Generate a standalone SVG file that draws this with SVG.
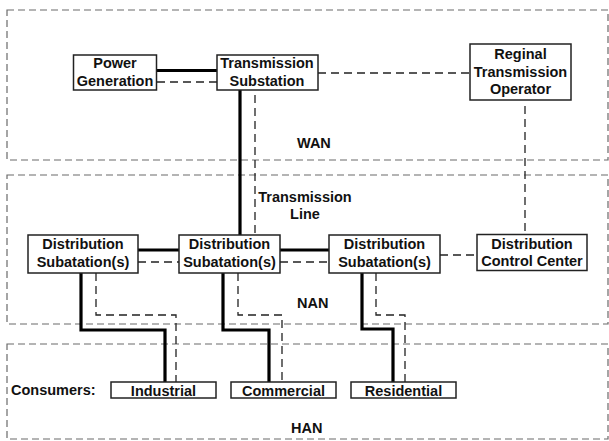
<svg xmlns="http://www.w3.org/2000/svg" width="609" height="441" viewBox="0 0 609 441">
<style>
.zone{fill:none;stroke:#6a6a6a;stroke-width:1.2;stroke-dasharray:7,4}
.box{fill:#fff;stroke:#222;stroke-width:1.5}
.t{font-family:"Liberation Sans",Arial,sans-serif;font-weight:bold;font-size:14.5px;fill:#111;text-anchor:middle}
.tl{font-family:"Liberation Sans",Arial,sans-serif;font-weight:bold;font-size:14.5px;fill:#111}
.pw{fill:none;stroke:#000;stroke-width:3.2}
.cm{fill:none;stroke:#222;stroke-width:1.3;stroke-dasharray:8,5}
</style>
<rect width="609" height="441" fill="#fff"/>
<g id="zones">
<rect class="zone" x="7" y="10" width="601" height="150"/>
<rect class="zone" x="7" y="175" width="601" height="149"/>
<rect class="zone" x="7" y="344" width="601" height="95"/>
<text class="tl" x="297" y="148">WAN</text>
<text class="tl" x="297" y="308">NAN</text>
<text class="tl" x="291" y="433">HAN</text>
<text class="tl" x="11" y="395">Consumers:</text>
<text class="t" x="305" y="202">Transmission</text>
<text class="t" x="305" y="219">Line</text>
</g>
<g id="connectors">
<line class="pw" x1="157" y1="70.5" x2="217" y2="70.5"/>
<line class="cm" x1="157" y1="82" x2="217" y2="82"/>
<line class="cm" x1="318" y1="73" x2="470" y2="73"/>
<line class="pw" x1="240" y1="90" x2="240" y2="235"/>
<line class="cm" x1="255" y1="95" x2="255" y2="235"/>
<line class="cm" x1="525" y1="106" x2="525" y2="235"/>
<line class="pw" x1="138" y1="250" x2="179" y2="250"/>
<line class="cm" x1="138" y1="262" x2="179" y2="262"/>
<line class="pw" x1="280" y1="250" x2="329" y2="250"/>
<line class="cm" x1="280" y1="262" x2="329" y2="262"/>
<line class="cm" x1="440" y1="255" x2="477" y2="255"/>
<polyline class="pw" points="81,273 81,330 165,330 165,382"/>
<polyline class="cm" points="96,273 96,315 176,315 176,382"/>
<polyline class="pw" points="223,273 223,330 269,330 269,382"/>
<polyline class="cm" points="238,273 238,315 282,315 282,382"/>
<polyline class="pw" points="362,273 362,329 393,329 393,382"/>
<polyline class="cm" points="376,273 376,315 405,315 405,382"/>
</g>
<g id="power-generation">
<rect class="box" x="73.5" y="55" width="83" height="35"/>
<text class="t" x="115" y="68">Power</text>
<text class="t" x="115" y="86">Generation</text>
</g>
<g id="transmission-substation">
<rect class="box" x="217" y="55" width="101" height="35"/>
<text class="t" x="267" y="68">Transmission</text>
<text class="t" x="267" y="86">Substation</text>
</g>
<g id="regional-transmission-operator">
<rect class="box" x="470" y="44" width="101" height="56"/>
<text class="t" x="520.5" y="59">Reginal</text>
<text class="t" x="520.5" y="77">Transmission</text>
<text class="t" x="520.5" y="94">Operator</text>
</g>
<g id="distribution-substation-1">
<rect class="box" x="28" y="235" width="110" height="38"/>
<text class="t" x="83" y="249">Distribution</text>
<text class="t" x="83" y="266.5">Subatation(s)</text>
</g>
<g id="distribution-substation-2">
<rect class="box" x="179" y="235" width="101" height="38"/>
<text class="t" x="229.5" y="249">Distribution</text>
<text class="t" x="229.5" y="266.5">Subatation(s)</text>
</g>
<g id="distribution-substation-3">
<rect class="box" x="329" y="235" width="111" height="38"/>
<text class="t" x="384.5" y="249">Distribution</text>
<text class="t" x="384.5" y="266.5">Subatation(s)</text>
</g>
<g id="distribution-control-center">
<rect class="box" x="477" y="234.5" width="110" height="36"/>
<text class="t" x="532" y="249">Distribution</text>
<text class="t" x="532" y="266">Control Center</text>
</g>
<g id="industrial">
<rect class="box" x="111" y="382" width="105" height="16"/>
<text class="t" x="163.5" y="396">Industrial</text>
</g>
<g id="commercial">
<rect class="box" x="231" y="382" width="105" height="16"/>
<text class="t" x="283.5" y="396">Commercial</text>
</g>
<g id="residential">
<rect class="box" x="351" y="382" width="105" height="16"/>
<text class="t" x="403.5" y="396">Residential</text>
</g>
</svg>
